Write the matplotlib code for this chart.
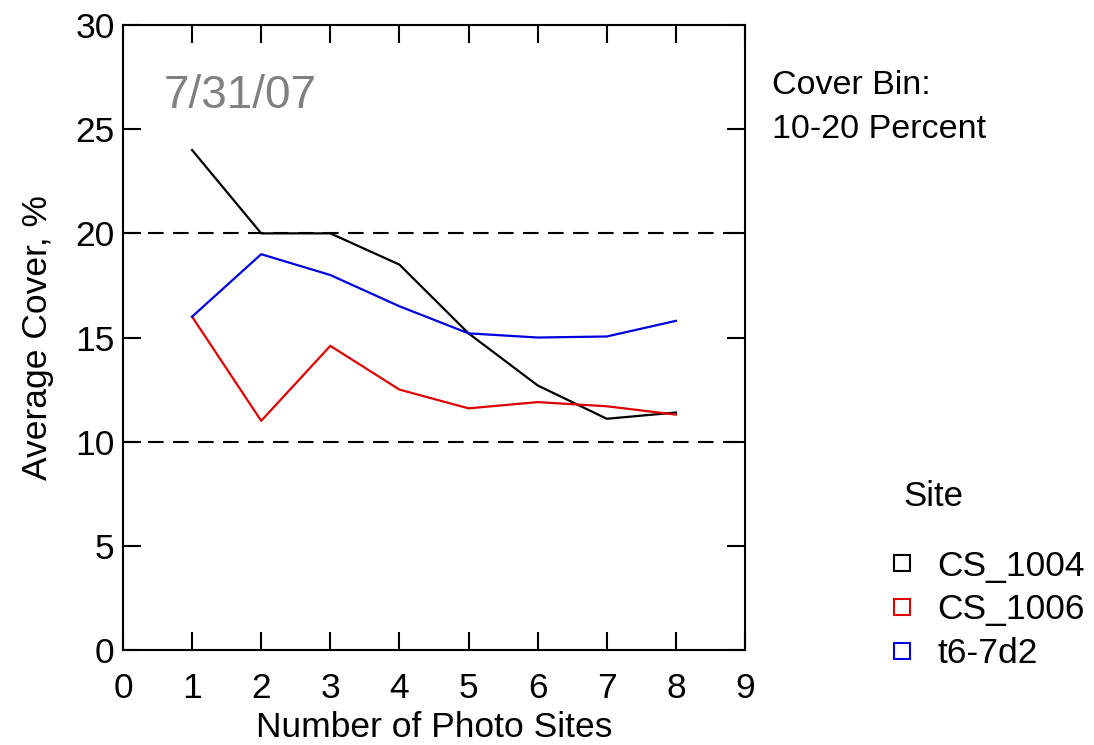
import matplotlib
matplotlib.use("Agg")
import matplotlib.pyplot as plt
from matplotlib.lines import Line2D

plt.rcParams['font.family'] = ['Liberation Sans', 'DejaVu Sans']
plt.rcParams['font.size'] = 25.5

# data
photo_sites = [1, 2, 3, 4, 5, 6, 7, 8]
cs_1004 = [24.0, 20.0, 20.0, 18.5, 15.2, 12.7, 11.1, 11.4]
cs_1006 = [16.0, 11.0, 14.6, 12.5, 11.6, 11.9, 11.7, 11.3]
t6_7d2 = [16.0, 19.0, 18.0, 16.5, 15.2, 15.0, 15.05, 15.8]

site_names = ["CS_1004", "CS_1006", "t6-7d2"]
site_colors = ["black", "#dd0000", "#0000dd"]
bin_limits = [10, 20]

fig = plt.figure(figsize=(10.94, 7.45), dpi=100)
ax = fig.add_axes([0.1124, 0.1275, 0.5686, 0.8389])

for y, name, col in zip([cs_1004, cs_1006, t6_7d2], site_names, site_colors):
    ax.plot(photo_sites, y, color=col, lw=1.6, label=name)

for lim in bin_limits:
    ax.axhline(lim, color="black", lw=1.5, linestyle=(0, (7.5, 4.5)), zorder=1)

ax.set_xlim(0, 9)
ax.set_ylim(0, 30)
ax.set_xticks(range(0, 10))
ax.set_yticks(range(0, 31, 5))
ax.tick_params(direction="in", length=13, width=1.5, top=True, right=True,
               labelsize=25.5)
ax.tick_params(axis="x", pad=16)
ax.tick_params(axis="y", pad=6)
for sp in ax.spines.values():
    sp.set_linewidth(1.5)

ax.set_xlabel("Number of Photo Sites", fontsize=25.5, labelpad=4)
ax.set_ylabel("Average Cover, %", fontsize=25.5, labelpad=15)

ax.text(0.065, 0.886, "7/31/07", transform=ax.transAxes, fontsize=33,
        color="#808080", va="center", ha="left")

fig.text(0.7057, 0.885, "Cover Bin:", fontsize=24.5, va="center", ha="left")
fig.text(0.7057, 0.826, "10-20 Percent", fontsize=24.5, va="center", ha="left")
fig.text(0.8255, 0.333, "Site", fontsize=25, va="center", ha="left")

handles = [Line2D([], [], marker="s", markersize=12, markerfacecolor="none",
                  markeredgecolor=c, markeredgewidth=1.5, linestyle="none")
           for c in site_colors]
fig.legend(handles, site_names, loc="upper left",
           bbox_to_anchor=(0.808, 0.262), frameon=False, fontsize=25.5,
           handlelength=1.0, handletextpad=0.5, labelspacing=0.3,
           borderpad=0, borderaxespad=0)

fig.savefig("out.png", dpi=100)
